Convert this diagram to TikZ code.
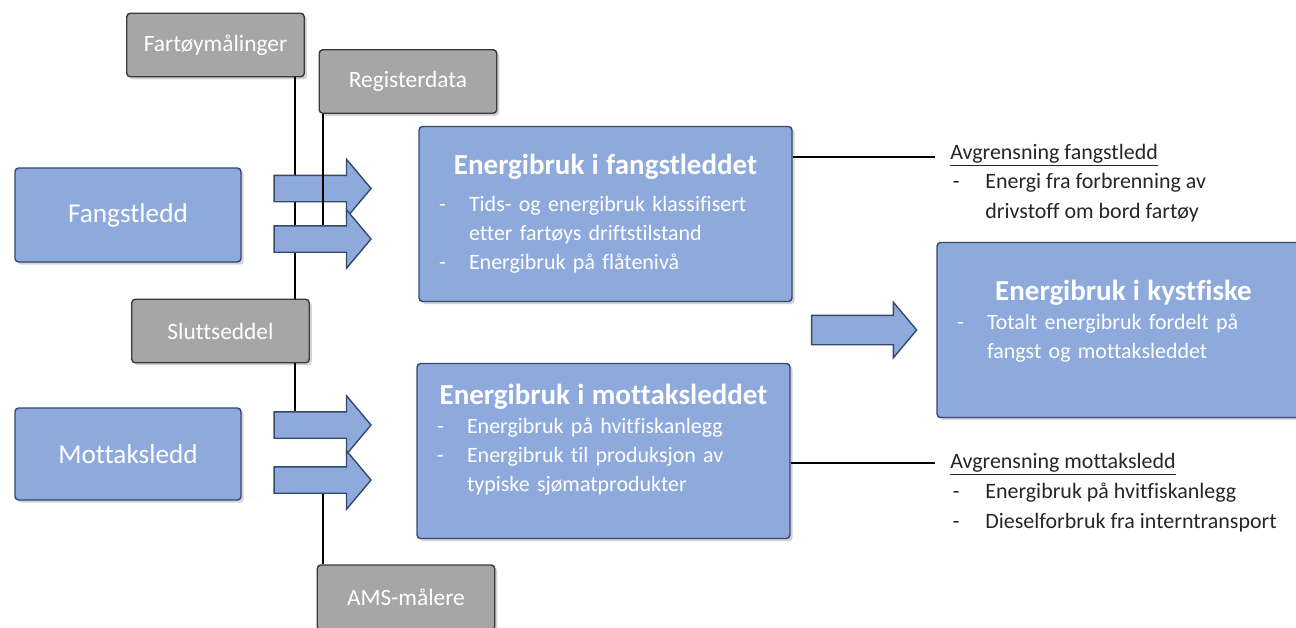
\documentclass[tikz,border=0pt]{standalone}
\usepackage{fontspec}
\setmainfont{Carlito}[Ligatures={CommonOff}]
\usetikzlibrary{shapes.arrows,shadows}

\definecolor{boxblue}{HTML}{8EA9DB}
\definecolor{boxedge}{HTML}{34496B}
\definecolor{boxgray}{HTML}{A6A6A6}
\definecolor{grayedge}{HTML}{3A3A3A}
\definecolor{notetext}{HTML}{262626}

\tikzset{
  skygge/.style={drop shadow={opacity=.35,shadow xshift=1.5pt,shadow yshift=-1.5pt}},
  leddbox/.style={draw=boxedge, fill=boxblue, thick, rounded corners=2pt, text=white,
    minimum width=4.52cm, minimum height=1.88cm, font=\fontsize{15.5}{18}\selectfont, skygge},
  kildebox/.style={draw=grayedge, fill=boxgray, thick, rounded corners=2pt, text=white,
    minimum width=3.55cm, minimum height=1.27cm, font=\fontsize{13.3}{16}\selectfont, skygge},
  energibox/.style={draw=boxedge, fill=boxblue, thick, rounded corners=2pt, text=white,
    text width=7.46cm, minimum height=3.5cm, inner xsep=0pt,
    font=\fontsize{12.5}{16.5}\selectfont, skygge},
  blokkpil/.style={single arrow, draw=boxedge, fill=boxblue, thick, inner xsep=0pt,
    inner ysep=0.25cm, minimum height=1.94cm, minimum width=0pt,
    single arrow head extend=0.32cm, single arrow tip angle=100},
  linje/.style={line width=1pt, black},
  notat/.style={anchor=north west, text=notetext, inner sep=0pt, align=left,
    font=\fontsize{12.5}{17}\selectfont}
}
\newcommand\tittel[1]{{\centering\fontsize{16.5}{20}\selectfont\bfseries #1\par}}
\newcommand\punkt[1]{\par\noindent\hspace*{0.4cm}\makebox[0.6cm][l]{-}#1}
\newcommand\videre[1]{\par\noindent\hspace*{1cm}#1}

\begin{document}
\begin{tikzpicture}[x=0.02cm,y=-0.02cm]
\useasboundingbox (0,0) rectangle (1296,627);

% datakilder
\node[kildebox] at (215.5,45) (fartoy) {Fartøymålinger};
\node[kildebox] at (408,81.5) (register) {Registerdata};
\node[kildebox] at (220.5,331) (slutt) {Sluttseddel};
\node[kildebox, minimum height=1.3cm] at (406,597.5) (ams) {AMS-målere};

% leddene
\node[leddbox] at (128,215) (fangst) {Fangstledd};
\node[leddbox, minimum height=1.84cm] at (128,454) (mottak) {Mottaksledd};

% energibruk
\node[energibox] at (605.5,214) (efangst) {\vspace*{0.16cm}\tittel{Energibruk i fangstleddet}%
  \punkt{Tids- og energibruk klassifisert}\videre{etter fartøys driftstilstand}%
  \punkt{Energibruk på flåtenivå}};
\node[energibox] at (603.5,451) (emottak) {\tittel{Energibruk i mottaksleddet}%
  \punkt{Energibruk på hvitfiskanlegg}\punkt{Energibruk til produksjon av}%
  \videre{typiske sjømatprodukter}\par\vspace*{0.45cm}};
\node[energibox] at (1123.5,330) (kyst) {\tittel{Energibruk i kystfiske}%
  \punkt{Totalt energibruk fordelt på}\videre{fangst og mottaksleddet}\par\vspace*{0.35cm}};

% avgrensning
\node[notat] at (950,143.5) (notf) {\underline{Avgrensning fangstledd}\\
  \makebox[0.7cm][l]{\hspace*{0.05cm}-}Energi fra forbrenning av\\
  \hspace*{0.7cm}drivstoff om bord fartøy};
\node[notat] at (950,453) (notm) {\underline{Avgrensning mottaksledd}\\
  \makebox[0.7cm][l]{\hspace*{0.05cm}-}Energibruk på hvitfiskanlegg\\
  \makebox[0.7cm][l]{\hspace*{0.05cm}-}Dieselforbruk fra interntransport};

\coordinate (nf) at (935,157);
\coordinate (nm) at (935,463);
\draw[linje] (efangst.east |- nf) -- (nf);
\draw[linje] (emottak.east |- nm) -- (nm);

% pilene
\coordinate (p1) at (317,188.5);
\coordinate (p2) at (317,239);
\coordinate (p3) at (317,425);
\coordinate (p4) at (317,480);
\coordinate (vA) at (295,0);
\coordinate (vB) at (323,0);

\draw[linje] (vA |- fartoy.south) -- (vA |- slutt.north);
\draw[linje] (vA |- slutt.south) -- (vA |- p3);
\draw[linje] (vB |- ams.north) -- (vB |- p4);

\node[blokkpil] at (p1) (a1) {};
\draw[linje] (vB |- register.south) -- (vB |- p2);
\node[blokkpil] at (p2) (a2) {};
\node[blokkpil] at (p3) (a3) {};
\node[blokkpil] at (p4) (a4) {};
\node[blokkpil, minimum height=2.1cm, inner ysep=0.28cm,
  single arrow head extend=0.26cm] at (858,330) (a5) {};

\end{tikzpicture}
\end{document}
